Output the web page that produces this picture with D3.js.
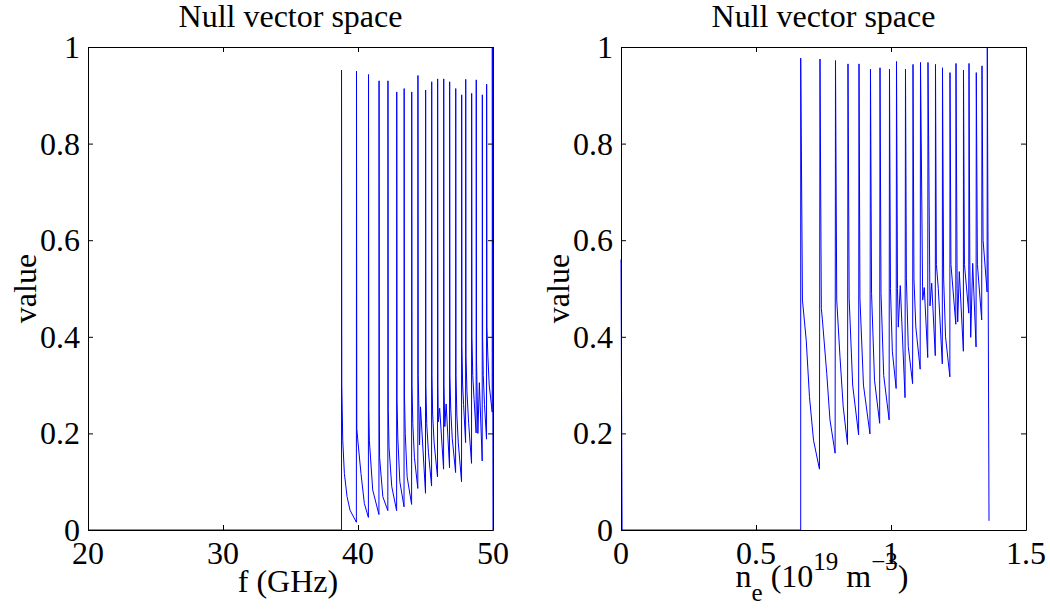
<!DOCTYPE html>
<html>
<head>
<meta charset="utf-8">
<script src="https://cdn.jsdelivr.net/npm/d3@7"></script>
<style>
  html, body { margin: 0; padding: 0; background: #fff; }
  svg { display: block; }
  text { font-family: "Liberation Serif", "Times New Roman", serif; fill: #000; }
</style>
</head>
<body>
<svg id="chart" width="1050" height="609"></svg>
<script>
// ---------------- DATA ----------------
const titleText = "Null vector space";
const yTicks = [0, 0.2, 0.4, 0.6, 0.8, 1];
const yTickLabels = ["0", "0.2", "0.4", "0.6", "0.8", "1"];

// Left panel: frequency (GHz) vs value
const leftXTicks = [20, 30, 40, 50];
const leftXTickLabels = ["20", "30", "40", "50"];
const leftF = [
  20, 38.78, 38.78, 38.80, 38.87, 38.99, 39.19, 39.41, 39.88,
  39.89, 39.91, 39.97, 40.22, 40.47, 40.77,
  40.78, 40.80, 40.84, 41.09, 41.55,
  41.56, 41.58, 41.60, 41.84, 42.21,
  42.22, 42.24, 42.30, 42.50, 42.86,
  42.87, 42.89, 42.95, 43.10, 43.41,
  43.42, 43.44, 43.50, 43.64, 43.97,
  43.98, 44.00, 44.06, 44.18, 44.43,
  44.44, 44.46, 44.56, 44.63, 45.00,
  45.01, 45.03, 45.09, 45.22, 45.45,
  45.46, 45.48, 45.53, 45.64, 45.89,
  45.90, 45.92, 45.95, 46.05, 46.34,
  46.35, 46.37, 46.43, 46.53, 46.78,
  46.79, 46.81, 46.87, 46.98, 47.23,
  47.24, 47.26, 47.32, 47.43, 47.67,
  47.68, 47.70, 47.75, 47.82, 47.97,
  47.98, 48.00, 48.07, 48.20, 48.41,
  48.42, 48.44, 48.50, 48.60, 48.75,
  48.76, 48.78, 48.88, 48.99, 49.20,
  49.21, 49.23, 49.28, 49.37, 49.52,
  49.53, 49.55, 49.62, 49.72, 49.94,
  49.95, 50.0
];
const leftVal = [
  0, 0, 0.952, 0.30, 0.186, 0.117, 0.069, 0.041, 0.016,
  0.950, 0.21, 0.19, 0.117, 0.055, 0.026,
  0.943, 0.25, 0.186, 0.083, 0.032,
  0.930, 0.24, 0.15, 0.069, 0.040,
  0.930, 0.25, 0.17, 0.09, 0.040,
  0.907, 0.27, 0.19, 0.10, 0.048,
  0.914, 0.28, 0.20, 0.11, 0.053,
  0.907, 0.30, 0.22, 0.15, 0.086,
  0.941, 0.32, 0.176, 0.255, 0.076,
  0.911, 0.30, 0.22, 0.16, 0.091,
  0.928, 0.32, 0.24, 0.18, 0.110,
  0.934, 0.30, 0.224, 0.252, 0.126,
  0.934, 0.30, 0.214, 0.261, 0.129,
  0.928, 0.32, 0.25, 0.19, 0.119,
  0.914, 0.32, 0.24, 0.18, 0.100,
  0.901, 0.38, 0.30, 0.26, 0.181,
  0.933, 0.36, 0.286, 0.22, 0.138,
  0.904, 0.40, 0.32, 0.27, 0.201,
  0.932, 0.35, 0.20, 0.305, 0.143,
  0.901, 0.40, 0.32, 0.26, 0.188,
  0.923, 0.42, 0.36, 0.30, 0.244,
  1.0, 0.0
];

// Right panel: density (1e19 m^-3) vs value
const rightXTicks = [0, 0.5, 1, 1.5];
const rightXTickLabels = ["0", "0.5", "1", "1.5"];
const rightNe = [
  0, 0.004, 0.6656,
  0.6656, 0.672, 0.686, 0.698, 0.713, 0.735,
  0.737, 0.742, 0.746, 0.762, 0.774, 0.793,
  0.7944, 0.799, 0.811, 0.823, 0.839,
  0.8407, 0.845, 0.858, 0.880,
  0.8815, 0.885, 0.898, 0.922,
  0.924, 0.928, 0.939, 0.958,
  0.9593, 0.963, 0.973, 0.993,
  0.9944, 0.998, 1.005, 1.019,
  1.0204, 1.024, 1.027, 1.0344, 1.052,
  1.0537, 1.057, 1.064, 1.080,
  1.0815, 1.085, 1.092, 1.108,
  1.1093, 1.1174, 1.1233, 1.136,
  1.137, 1.1444, 1.1507, 1.164,
  1.1648, 1.168, 1.1752, 1.190,
  1.1907, 1.195, 1.202, 1.218,
  1.2185, 1.222, 1.240,
  1.2407, 1.245, 1.247, 1.253, 1.268,
  1.2685, 1.272, 1.288,
  1.2889, 1.292, 1.2952, 1.3026, 1.315,
  1.3159, 1.320, 1.3359,
  1.337, 1.341, 1.3559,
  1.3567, 1.363
];
const rightVal = [
  0.56, 0, 0,
  0.977, 0.476, 0.393, 0.276, 0.186, 0.126,
  0.975, 0.459, 0.435, 0.324, 0.228, 0.159,
  0.972, 0.476, 0.359, 0.255, 0.177,
  0.965, 0.48, 0.30, 0.197,
  0.965, 0.48, 0.30, 0.199,
  0.954, 0.49, 0.31, 0.221,
  0.957, 0.49, 0.32, 0.228,
  0.954, 0.50, 0.37, 0.293,
  0.970, 0.50, 0.42, 0.506, 0.274,
  0.954, 0.52, 0.38, 0.303,
  0.964, 0.52, 0.42, 0.333,
  0.968, 0.476, 0.502, 0.357,
  0.968, 0.464, 0.511, 0.361,
  0.964, 0.55, 0.50, 0.344,
  0.957, 0.52, 0.40, 0.317,
  0.947, 0.55, 0.426,
  0.966, 0.50, 0.431, 0.535, 0.370,
  0.952, 0.55, 0.449,
  0.966, 0.55, 0.399, 0.552, 0.379,
  0.947, 0.55, 0.435,
  0.961, 0.60, 0.493,
  1.0, 0.019
];

// ---------------- DRAW ----------------
const svg = d3.select("#chart");
const plotTop = 47, plotBottom = 530;
const fontSize = 32;

function panel(opts) {
  const x = d3.scaleLinear().domain(opts.xDomain).range([opts.left, opts.right]);
  const y = d3.scaleLinear().domain([0, 1]).range([plotBottom, plotTop]);
  const g = svg.append("g");

  const pts = opts.xs.map((v, i) => [v, opts.ys[i]]);
  g.append("path")
    .datum(pts)
    .attr("fill", "none")
    .attr("stroke", "#0000ff")
    .attr("stroke-width", 1)
    .attr("d", d3.line().x(d => x(d[0])).y(d => y(d[1])));

  const ax = (axisFn, scale, ticks) => axisFn(scale).tickValues(ticks).tickSizeInner(-5).tickSizeOuter(0).tickFormat("");
  const styleAxis = sel => {
    sel.select(".domain").attr("stroke", "#000").attr("stroke-width", 1);
    sel.selectAll(".tick line").attr("stroke", "#000").attr("stroke-width", 1);
  };
  g.append("g").attr("transform", `translate(0,${plotBottom})`).call(ax(d3.axisBottom, x, opts.xTicks)).call(styleAxis);
  g.append("g").attr("transform", `translate(0,${plotTop})`).call(ax(d3.axisTop, x, opts.xTicks)).call(styleAxis);
  g.append("g").attr("transform", `translate(${opts.left},0)`).call(ax(d3.axisLeft, y, yTicks)).call(styleAxis);
  g.append("g").attr("transform", `translate(${opts.right},0)`).call(ax(d3.axisRight, y, yTicks)).call(styleAxis);

  g.selectAll(".xl").data(opts.xTicks).enter().append("text")
    .attr("x", d => x(d)).attr("y", 564)
    .attr("text-anchor", "middle").attr("font-size", fontSize)
    .text((d, i) => opts.xTickLabels[i]);
  g.selectAll(".yl").data(yTicks).enter().append("text")
    .attr("x", opts.left - 8).attr("y", d => y(d) + 11)
    .attr("text-anchor", "end").attr("font-size", fontSize)
    .text((d, i) => yTickLabels[i]);

  g.append("text")
    .attr("x", (opts.left + opts.right) / 2).attr("y", 27)
    .attr("text-anchor", "middle").attr("font-size", fontSize)
    .text(titleText);

  g.append("text")
    .attr("transform", `translate(${opts.left - 52},${(plotTop + plotBottom) / 2}) rotate(-90)`)
    .attr("text-anchor", "middle").attr("font-size", fontSize)
    .text("value");

  return { g, x, y };
}

const L = panel({
  left: 88, right: 493, xDomain: [20, 50],
  xTicks: leftXTicks, xTickLabels: leftXTickLabels,
  xs: leftF, ys: leftVal
});
L.g.append("text")
  .attr("x", 288).attr("y", 592)
  .attr("text-anchor", "middle").attr("font-size", fontSize)
  .text("f (GHz)");

const R = panel({
  left: 621, right: 1026, xDomain: [0, 1.5],
  xTicks: rightXTicks, xTickLabels: rightXTickLabels,
  xs: rightNe, ys: rightVal
});
const xl = R.g.append("text")
  .attr("x", 822).attr("y", 587)
  .attr("text-anchor", "middle").attr("font-size", fontSize);
xl.append("tspan").text("n");
xl.append("tspan").attr("dy", 14).attr("font-size", 25).text("e");
xl.append("tspan").attr("dy", -14).text(" (10");
xl.append("tspan").attr("dy", -17).attr("font-size", 25).text("19");
xl.append("tspan").attr("dy", 17).text(" m");
xl.append("tspan").attr("dy", -17).attr("font-size", 25).text("\u22123");
xl.append("tspan").attr("dy", 17).text(")");
</script>
</body>
</html>
